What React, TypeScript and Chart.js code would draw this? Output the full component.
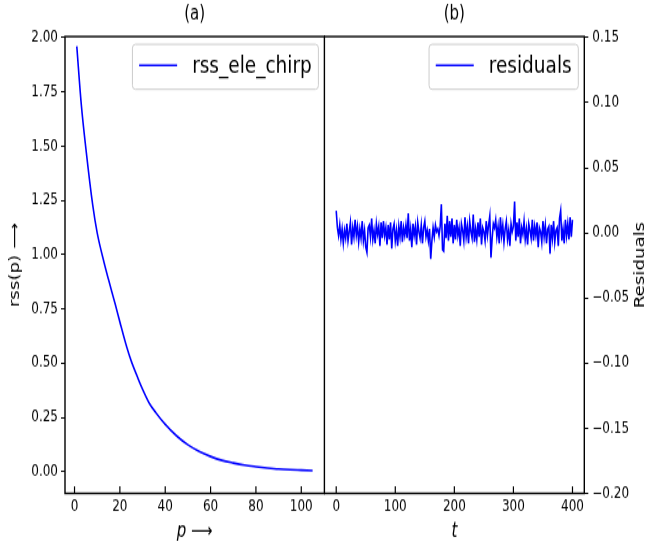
import React, { useEffect, useRef } from "react";
import { Chart, registerables } from "chart.js";

Chart.register(...registerables);

// ---------------- data ----------------
const rssP = [1, 3, 5, 8, 10, 13, 15, 18, 20, 23, 25, 28, 30, 33, 36, 40, 45, 50, 55, 60, 65, 70, 75, 80, 85, 90, 95, 100, 105];
const rssValues = [1.96, 1.69, 1.49, 1.23, 1.10, 0.965, 0.885, 0.77, 0.69, 0.575, 0.51, 0.43, 0.38, 0.315, 0.27, 0.218, 0.165, 0.124, 0.093, 0.07, 0.052, 0.04, 0.03, 0.023, 0.017, 0.012, 0.009, 0.007, 0.005];

const residualStep = 2; // t spacing between consecutive residual samples
const residualValues = [
  0.017, 0.004, -0.002, 0.006, -0.005, 0.003, -0.008, 0.002, -0.004, 0.007, -0.006, 0.001, 0.008, -0.009, 0.004, -0.003, 0.010, -0.002, 0.005, -0.007,
  0.003, -0.004, 0.009, -0.006, 0.002, -0.011, -0.015, 0.004, 0.006, -0.003, 0.011, -0.005, 0.002, -0.008, 0.007, -0.001, 0.005, -0.010, 0.008, -0.004,
  0.009, -0.002, 0.004, -0.009, 0.006, -0.005, 0.008, -0.012, 0.003, 0.007, -0.006, 0.002, -0.010, 0.005, -0.003, 0.009, -0.007, 0.004, -0.002, 0.006,
  -0.004, 0.015, -0.006, 0.003, -0.011, 0.007, -0.002, 0.005, -0.009, 0.008, 0.001, -0.004, 0.006, -0.008, 0.004, 0.009, -0.003, 0.002, -0.006, 0.003,
  -0.020, -0.006, 0.004, -0.003, 0.006, 0.001, 0.003, -0.002, 0.005, 0.022, -0.013, -0.014, 0.007, -0.004, 0.013, -0.006, 0.009, -0.003, 0.011, -0.008,
  0.006, -0.005, 0.010, -0.002, 0.004, -0.010, 0.007, 0.002, -0.006, 0.012, -0.003, 0.005, -0.008, 0.009, 0.001, -0.004, 0.014, -0.007, 0.003, -0.005,
  0.008, -0.003, 0.011, -0.009, 0.004, 0.001, -0.006, 0.009, -0.002, 0.006, 0.013, -0.019, -0.004, 0.007, 0.004, 0.010, -0.003, 0.005, -0.008, 0.012,
  -0.002, 0.006, -0.007, 0.003, 0.009, -0.005, 0.002, -0.010, 0.007, 0.001, 0.005, 0.024, -0.006, 0.008, -0.003, 0.011, -0.008, 0.004, -0.001, 0.009,
  -0.005, 0.003, -0.009, 0.007, 0.002, -0.004, 0.010, -0.006, 0.005, -0.002, 0.008, -0.011, 0.004, 0.001, -0.007, 0.009, -0.003, 0.006, -0.008, 0.003,
  0.005, -0.016, 0.006, -0.004, 0.009, -0.007, 0.002, 0.004, -0.010, 0.011, 0.017, -0.006, 0.003, -0.008, 0.010, -0.002, 0.007, -0.005, 0.012, -0.003,
  0.010,
];

const leftTitle = "(a)";
const rightTitle = "(b)";
const leftXLabel = "p \u27F6";
const leftYLabel = "rss(p) \u27F6";
const rightXLabel = "t";
const rightYLabel = "Residuals";

// ---------------- styling ----------------
const FONT = "'DejaVu Sans', 'Liberation Sans', sans-serif";
const INT_H = 420; // internal canvas height, stretched to 546px by CSS
const CSS_H = 546;
const PANEL_W = 325;
const BLUE = "#0000ff";

Chart.defaults.color = "#000";
Chart.defaults.font.family = FONT;

const fmt2 = (v: number) => {
  const n = Math.abs(v) < 1e-9 ? 0 : v;
  return n.toFixed(2).replace("-", "\u2212");
};

const framePlugin = {
  id: "frame",
  afterDraw(chart: any) {
    const { ctx, chartArea: a } = chart;
    ctx.save();
    const xs = chart.scales.x;
    ctx.strokeStyle = "#000";
    ctx.lineWidth = 1.2;
    xs.ticks.forEach((t: any) => {
      const px = xs.getPixelForValue(t.value);
      ctx.beginPath();
      ctx.moveTo(px, a.bottom);
      ctx.lineTo(px, a.bottom - 5.4);
      ctx.stroke();
    });
    ctx.lineWidth = 1.4;
    ctx.strokeRect(a.left, a.top, a.right - a.left, a.bottom - a.top);
    ctx.restore();
  },
};

const boxLegendPlugin = {
  id: "boxLegend",
  afterDatasetsDraw(chart: any) {
    const { ctx, chartArea: a } = chart;
    const ds = chart.data.datasets[0];
    ctx.save();
    ctx.font = `18.5px ${FONT}`;
    const tw = ctx.measureText(ds.label).width;
    const padL = 6.7, lineLen = 38, gap = 15, padR = 6.6;
    const w = padL + lineLen + gap + tw + padR;
    const h = 34.6;
    const x = a.right - 6 - w;
    const y = a.top + 6;
    ctx.beginPath();
    ctx.roundRect(x, y, w, h, 3);
    ctx.fillStyle = "rgba(255,255,255,0.8)";
    ctx.fill();
    ctx.strokeStyle = "#cccccc";
    ctx.lineWidth = 1;
    ctx.stroke();
    ctx.beginPath();
    ctx.strokeStyle = ds.borderColor;
    ctx.lineWidth = 1.6;
    ctx.moveTo(x + padL, y + h / 2 - 1.2);
    ctx.lineTo(x + padL + lineLen, y + h / 2 - 1.2);
    ctx.stroke();
    ctx.fillStyle = "#000";
    ctx.textBaseline = "middle";
    ctx.textAlign = "left";
    ctx.fillText(ds.label, x + padL + lineLen + gap, y + h / 2);
    ctx.restore();
  },
};

const rightLabelPlugin = {
  id: "rightLabel",
  afterDraw(chart: any) {
    const { ctx, chartArea: a } = chart;
    ctx.save();
    ctx.translate(316.7, (a.top + a.bottom) / 2);
    ctx.rotate(-Math.PI / 2);
    ctx.font = `14px ${FONT}`;
    ctx.fillStyle = "#000";
    ctx.textAlign = "center";
    ctx.textBaseline = "middle";
    ctx.fillText(rightYLabel, 0, 0);
    ctx.restore();
  },
};

const tickFont = { family: FONT, size: 12 };
const titleOpts = (text: string) => ({
  display: true,
  text,
  fullSize: false,
  color: "#000",
  font: { family: FONT, size: 15, weight: "normal" as const },
  padding: { top: 2.5, bottom: 7.6 },
});

function leftConfig(): any {
  return {
    type: "line",
    data: {
      datasets: [
        {
          label: "rss_ele_chirp",
          data: rssP.map((p, i) => ({ x: p, y: rssValues[i] })),
          borderColor: BLUE,
          borderWidth: 1.6,
          pointRadius: 0,
          cubicInterpolationMode: "monotone",
          fill: false,
        },
      ],
    },
    options: {
      responsive: false,
      animation: false,
      devicePixelRatio: 1,
      layout: { padding: { left: 0, right: 0.6, top: 0, bottom: 0 } },
      plugins: { legend: { display: false }, tooltip: { enabled: false }, title: titleOpts(leftTitle) },
      scales: {
        x: {
          type: "linear",
          min: -4.2,
          max: 110.2,
          ticks: { stepSize: 20, includeBounds: false, padding: 3, font: tickFont, color: "#000", maxRotation: 0, autoSkip: false },
          grid: { display: false, drawTicks: false },
          border: { display: false },
          title: { display: true, text: leftXLabel, color: "#000", font: { family: FONT, size: 15, style: "italic" }, padding: { top: 0, bottom: 1.8 } },
          afterFit: (s: any) => { s.height = 40.5; },
        },
        y: {
          type: "linear",
          min: -0.1,
          max: 2.005,
          ticks: { stepSize: 0.25, includeBounds: false, padding: 3, font: tickFont, color: "#000", callback: (v: any) => fmt2(Number(v)) },
          grid: { display: true, drawOnChartArea: false, drawTicks: true, tickLength: 4, tickColor: "#000", tickWidth: 1 },
          border: { display: false },
          title: { display: true, text: leftYLabel, color: "#000", font: { family: FONT, size: 14 }, padding: { top: 7, bottom: 0 } },
          afterFit: (s: any) => { s.width = 65; },
        },
      },
    },
    plugins: [boxLegendPlugin, framePlugin],
  };
}

function rightConfig(): any {
  return {
    type: "line",
    data: {
      datasets: [
        {
          label: "residuals",
          data: residualValues.map((v, i) => ({ x: i * residualStep, y: v })),
          borderColor: BLUE,
          borderWidth: 1.6,
          pointRadius: 0,
          tension: 0,
          fill: false,
        },
      ],
    },
    options: {
      responsive: false,
      animation: false,
      devicePixelRatio: 1,
      layout: { padding: { left: 0.4, right: 0, top: 0, bottom: 0 } },
      plugins: { legend: { display: false }, tooltip: { enabled: false }, title: titleOpts(rightTitle) },
      scales: {
        x: {
          type: "linear",
          min: -20,
          max: 420,
          ticks: { stepSize: 100, includeBounds: false, padding: 3, font: tickFont, color: "#000", maxRotation: 0, autoSkip: false },
          grid: { display: false, drawTicks: false },
          border: { display: false },
          title: { display: true, text: rightXLabel, color: "#000", font: { family: FONT, size: 15, style: "italic" }, padding: { top: 0, bottom: 1.8 } },
          afterFit: (s: any) => { s.height = 40.5; },
        },
        y: {
          type: "linear",
          position: "right",
          min: -0.2,
          max: 0.1508,
          ticks: { stepSize: 0.05, includeBounds: false, padding: 4, font: tickFont, color: "#000", callback: (v: any) => fmt2(Number(v)) },
          grid: { display: true, drawOnChartArea: false, drawTicks: true, tickLength: 4, tickColor: "#000", tickWidth: 1 },
          border: { display: false },
          afterFit: (s: any) => { s.width = 64.7; },
        },
      },
    },
    plugins: [boxLegendPlugin, framePlugin, rightLabelPlugin],
  };
}

export default function App() {
  const leftRef = useRef<HTMLCanvasElement | null>(null);
  const rightRef = useRef<HTMLCanvasElement | null>(null);

  useEffect(() => {
    document.body.style.margin = "0";
    const l = new Chart(leftRef.current as HTMLCanvasElement, leftConfig());
    const r = new Chart(rightRef.current as HTMLCanvasElement, rightConfig());
    return () => {
      l.destroy();
      r.destroy();
    };
  }, []);

  const canvasStyle = (left: number): React.CSSProperties => ({
    position: "absolute",
    left,
    top: 0,
    width: `${PANEL_W}px`,
    height: `${CSS_H}px`,
  });

  return (
    <div style={{ position: "absolute", left: 0, top: 0, width: 649, height: CSS_H, background: "#fff", overflow: "hidden" }}>
      <canvas ref={leftRef} width={PANEL_W} height={INT_H} style={canvasStyle(0)} />
      <canvas ref={rightRef} width={PANEL_W} height={INT_H} style={canvasStyle(324)} />
    </div>
  );
}
